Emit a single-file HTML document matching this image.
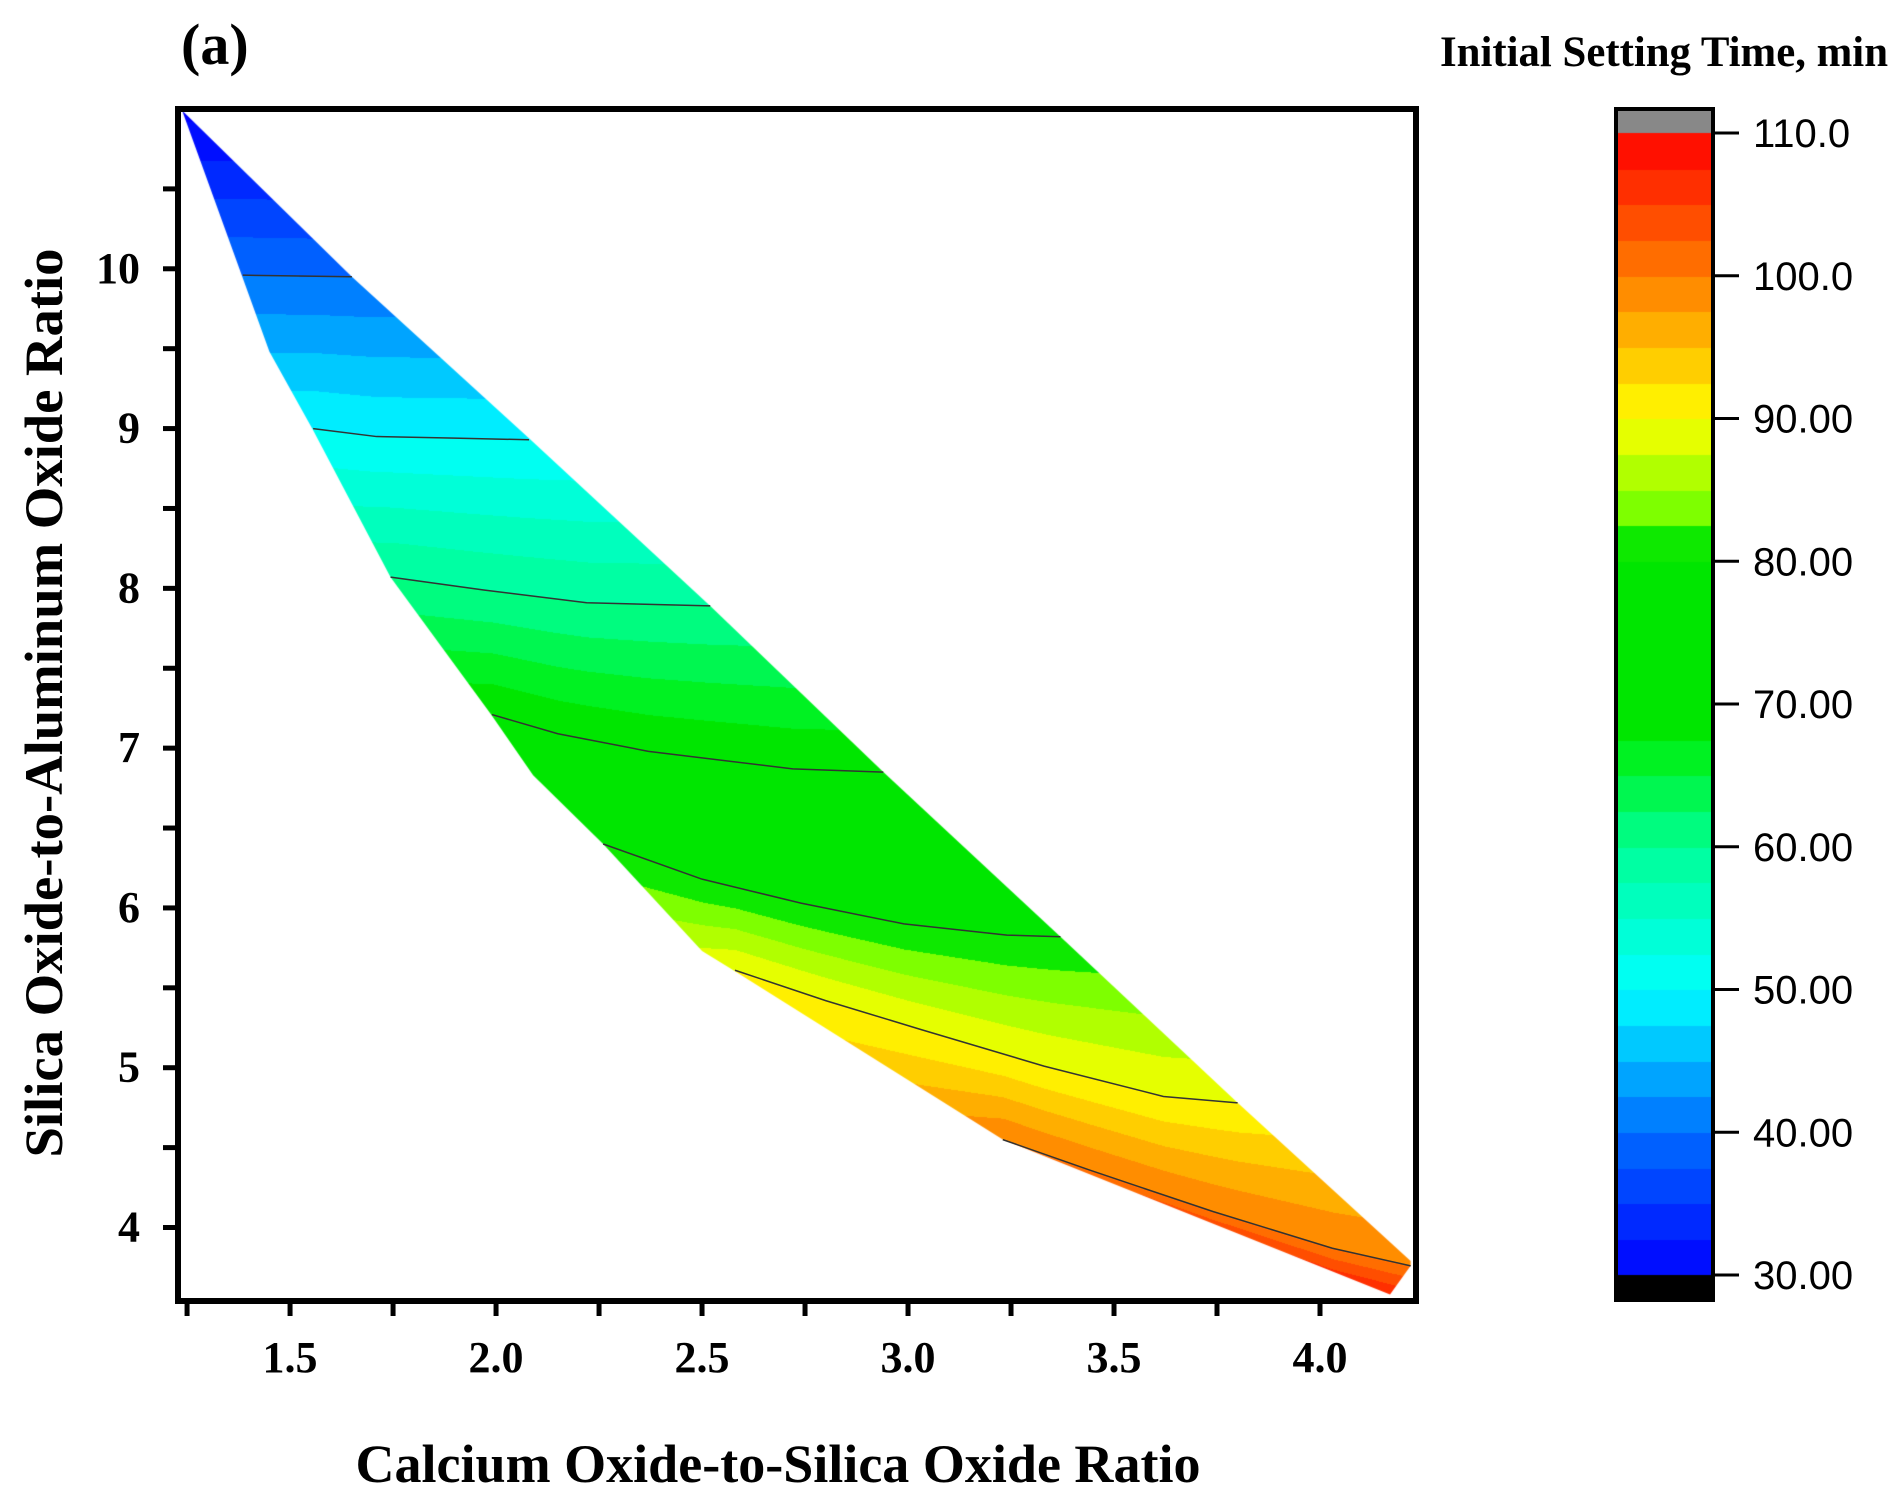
<!DOCTYPE html>
<html><head><meta charset="utf-8"><style>
html,body{margin:0;padding:0;background:#fff;}
#wrap{position:relative;width:1901px;height:1501px;overflow:hidden;}
canvas,svg{position:absolute;left:0;top:0;}
</style></head><body>
<div id="wrap">
<canvas id="cv" width="1901" height="1501"></canvas>
<svg id="sv" width="1901" height="1501" xmlns="http://www.w3.org/2000/svg"></svg>
</div>
<script>
// ---- data ----
const xTicks = [1.5, 2.0, 2.5, 3.0, 3.5, 4.0];
const xTickLabels = ["1.5", "2.0", "2.5", "3.0", "3.5", "4.0"];
const yTicks = [4, 5, 6, 7, 8, 9, 10];
const yTickLabels = ["4", "5", "6", "7", "8", "9", "10"];
const cbTicks = [30, 40, 50, 60, 70, 80, 90, 100, 110];
const cbTickLabels = ["30.00", "40.00", "50.00", "60.00", "70.00", "80.00", "90.00", "100.0", "110.0"];
const contourLevels = [40, 50, 60, 70, 80, 90, 100];
const contour40 = [[1.385, 9.96], [1.65, 9.95]];
const contour50 = [[1.556, 9.0], [1.71, 8.95], [1.90, 8.94], [2.08, 8.93]];
const contour60 = [[1.744, 8.07], [1.97, 7.99], [2.22, 7.91], [2.52, 7.89]];
const contour70 = [[1.99, 7.21], [2.15, 7.09], [2.37, 6.98], [2.72, 6.87], [2.94, 6.85]];
const contour80 = [[2.26, 6.40], [2.50, 6.18], [2.74, 6.03], [2.99, 5.90], [3.24, 5.83], [3.37, 5.82]];
const contour90 = [[2.58, 5.61], [2.80, 5.42], [3.03, 5.24], [3.33, 5.01], [3.62, 4.82], [3.80, 4.78]];
const contour100 = [[3.23, 4.55], [3.44, 4.36], [3.74, 4.10], [4.03, 3.87], [4.22, 3.76]];
const regionUpper = [[1.238, 10.99], [1.65, 9.95], [2.08, 8.94], [2.52, 7.89], [2.94, 6.85], [3.37, 5.82], [3.80, 4.78], [4.22, 3.79]];
const regionLower = [[1.238, 10.99], [1.45, 9.48], [1.556, 8.99], [1.744, 8.07], [1.988, 7.21], [2.09, 6.83], [2.26, 6.40], [2.50, 5.73], [2.576, 5.61], [3.23, 4.55], [4.17, 3.58], [4.22, 3.76]];
const contourLines = [contour40, contour50, contour60, contour70, contour80, contour90, contour100];

// ---- layout ----
const PL = 178, PR = 1416, PT = 109, PB = 1301;
const X0 = 1.228, X1 = 4.233, Y0 = 3.54, Y1 = 11.0;
const sx = v => PL + (v - X0) / (X1 - X0) * (PR - PL);
const sy = v => PB - (v - Y0) / (Y1 - Y0) * (PB - PT);
const ix = p => X0 + (p - PL) / (PR - PL) * (X1 - X0);
const iy = p => Y0 + (PB - p) / (PB - PT) * (Y1 - Y0);
const CBL = 1616, CBR = 1713, CBT = 109, CBB = 1300;
const cbY = v => 133 + (110 - v) * 14.275;

function cmap(v) {
  const st = [[30, [0, 0, 255]], [40, [0, 110, 255]], [50, [0, 255, 255]], [60, [0, 255, 150]], [67, [0, 240, 20]], [68, [0, 230, 0]], [81, [0, 230, 0]], [83, [110, 255, 0]], [90, [255, 255, 0]], [100, [255, 125, 0]], [110, [255, 0, 0]]];
  if (v <= st[0][0]) return st[0][1];
  for (let i = 1; i < st.length; i++) {
    if (v <= st[i][0]) {
      const t = (v - st[i - 1][0]) / (st[i][0] - st[i - 1][0]);
      return st[i - 1][1].map((c, k) => Math.round(c + t * (st[i][1][k] - c)));
    }
  }
  return st[st.length - 1][1];
}
function band(v) { return Math.floor(v / 2.5) * 2.5 + 1.25; }
function lineY(line, x) {
  if (x <= line[0][0]) return line[0][1];
  for (let i = 1; i < line.length; i++) {
    if (x <= line[i][0]) {
      const t = (x - line[i - 1][0]) / (line[i][0] - line[i - 1][0]);
      return line[i - 1][1] + t * (line[i][1] - line[i - 1][1]);
    }
  }
  return line[line.length - 1][1];
}
function valueAt(x, y) {
  const ys = contourLines.map(l => lineY(l, x));
  const n = ys.length;
  if (y >= ys[0]) { return contourLevels[0] - (y - ys[0]) / (ys[0] - ys[1]) * (contourLevels[1] - contourLevels[0]); }
  for (let i = 1; i < n; i++) {
    if (y >= ys[i]) {
      const t = (ys[i - 1] - y) / (ys[i - 1] - ys[i]);
      return contourLevels[i - 1] + t * (contourLevels[i] - contourLevels[i - 1]);
    }
  }
  const d = Math.max(ys[n - 2] - ys[n - 1], 0.3);
  return contourLevels[n - 1] + (ys[n - 1] - y) / d * 10 * 3.5;
}

// ---- fill ----
const cv = document.getElementById('cv');
const ctx = cv.getContext('2d');
const img = ctx.createImageData(PR - PL, PB - PT);
for (let py = 0; py < PB - PT; py++) {
  const y = iy(py + PT);
  for (let px = 0; px < PR - PL; px++) {
    const x = ix(px + PL);
    const c = cmap(band(valueAt(x, y)));
    const o = (py * (PR - PL) + px) * 4;
    img.data[o] = c[0]; img.data[o + 1] = c[1]; img.data[o + 2] = c[2]; img.data[o + 3] = 255;
  }
}
const off = document.createElement('canvas');
off.width = PR - PL; off.height = PB - PT;
off.getContext('2d').putImageData(img, 0, 0);
ctx.save();
ctx.beginPath();
regionUpper.forEach((p, i) => i ? ctx.lineTo(sx(p[0]), sy(p[1])) : ctx.moveTo(sx(p[0]), sy(p[1])));
for (let i = regionLower.length - 1; i >= 0; i--) ctx.lineTo(sx(regionLower[i][0]), sy(regionLower[i][1]));
ctx.closePath();
ctx.clip();
ctx.drawImage(off, PL, PT);
ctx.restore();
// colorbar
for (let v = 30; v < 110; v += 2.5) {
  const c = cmap(v + 1.25);
  ctx.fillStyle = `rgb(${c[0]},${c[1]},${c[2]})`;
  ctx.fillRect(CBL, Math.floor(cbY(v + 2.5)), CBR - CBL, Math.ceil(cbY(v) - cbY(v + 2.5)) + 1);
}
ctx.fillStyle = '#888'; ctx.fillRect(CBL, CBT, CBR - CBL, cbY(110) - CBT);
ctx.fillStyle = '#000'; ctx.fillRect(CBL, cbY(30), CBR - CBL, CBB - cbY(30));

// ---- svg ----
const NS = 'http://www.w3.org/2000/svg';
const sv = document.getElementById('sv');
function mk(tag, attrs, text) {
  const e = document.createElementNS(NS, tag);
  for (const k in attrs) e.setAttribute(k, attrs[k]);
  if (text !== undefined) e.textContent = text;
  sv.appendChild(e);
  return e;
}
contourLines.forEach((l, i) => {
  const e = mk('polyline', { points: l.map(p => sx(p[0]) + ',' + sy(p[1])).join(' '), fill: 'none', stroke: '#333', 'stroke-width': 1.5 });
  
  
});
let e = mk('rect', { x: PL, y: PT, width: PR - PL, height: PB - PT, fill: 'none', stroke: '#000', 'stroke-width': 6 });


for (let v = 1.25; v <= 4.23; v += 0.25) {
  e = mk('line', { x1: sx(v), x2: sx(v), y1: PB, y2: PB + 15, stroke: '#000', 'stroke-width': 5 });
  
  
}
xTicks.forEach((v, i) => {
  e = mk('text', { x: sx(v), y: 1372, 'text-anchor': 'middle', 'font-family': 'Liberation Serif, serif', 'font-weight': 'bold', 'font-size': 44 }, xTickLabels[i]);
  
  
});
for (let v = 4; v <= 10.6; v += 0.5) {
  e = mk('line', { x1: PL - 15, x2: PL, y1: sy(v), y2: sy(v), stroke: '#000', 'stroke-width': 5 });
  
  
}
yTicks.forEach((v, i) => {
  e = mk('text', { x: 140, y: sy(v) + 14, 'text-anchor': 'end', 'font-family': 'Liberation Serif, serif', 'font-weight': 'bold', 'font-size': 44 }, yTickLabels[i]);
  
  
});
e = mk('rect', { x: CBL, y: CBT, width: CBR - CBL, height: CBB - CBT, fill: 'none', stroke: '#000', 'stroke-width': 4 });


cbTicks.forEach((v, i) => {
  e = mk('line', { x1: CBR, x2: CBR + 26, y1: cbY(v), y2: cbY(v), stroke: '#000', 'stroke-width': 3 });
  
  
  e = mk('text', { x: 1753, y: cbY(v) + 14, 'font-family': 'Liberation Sans, sans-serif', 'font-size': 40 }, cbTickLabels[i]);
  
  
});
e = mk('text', { x: 1440, y: 66, textLength: 448, lengthAdjust: 'spacingAndGlyphs', 'font-family': 'Liberation Serif, serif', 'font-weight': 'bold', 'font-size': 43 }, 'Initial Setting Time, min');


e = mk('text', { x: 181, y: 64, 'font-family': 'Liberation Serif, serif', 'font-weight': 'bold', 'font-size': 58 }, '(a)');


e = mk('text', { x: 778, y: 1482, 'text-anchor': 'middle', textLength: 845, lengthAdjust: 'spacingAndGlyphs', 'font-family': 'Liberation Serif, serif', 'font-weight': 'bold', 'font-size': 54 }, 'Calcium Oxide-to-Silica Oxide Ratio');


e = mk('text', { x: 0, y: 0, 'text-anchor': 'middle', textLength: 909, lengthAdjust: 'spacingAndGlyphs', transform: 'translate(62,703) rotate(-90)', 'font-family': 'Liberation Serif, serif', 'font-weight': 'bold', 'font-size': 54 }, 'Silica Oxide-to-Aluminum Oxide Ratio');


</script>
</body></html>
